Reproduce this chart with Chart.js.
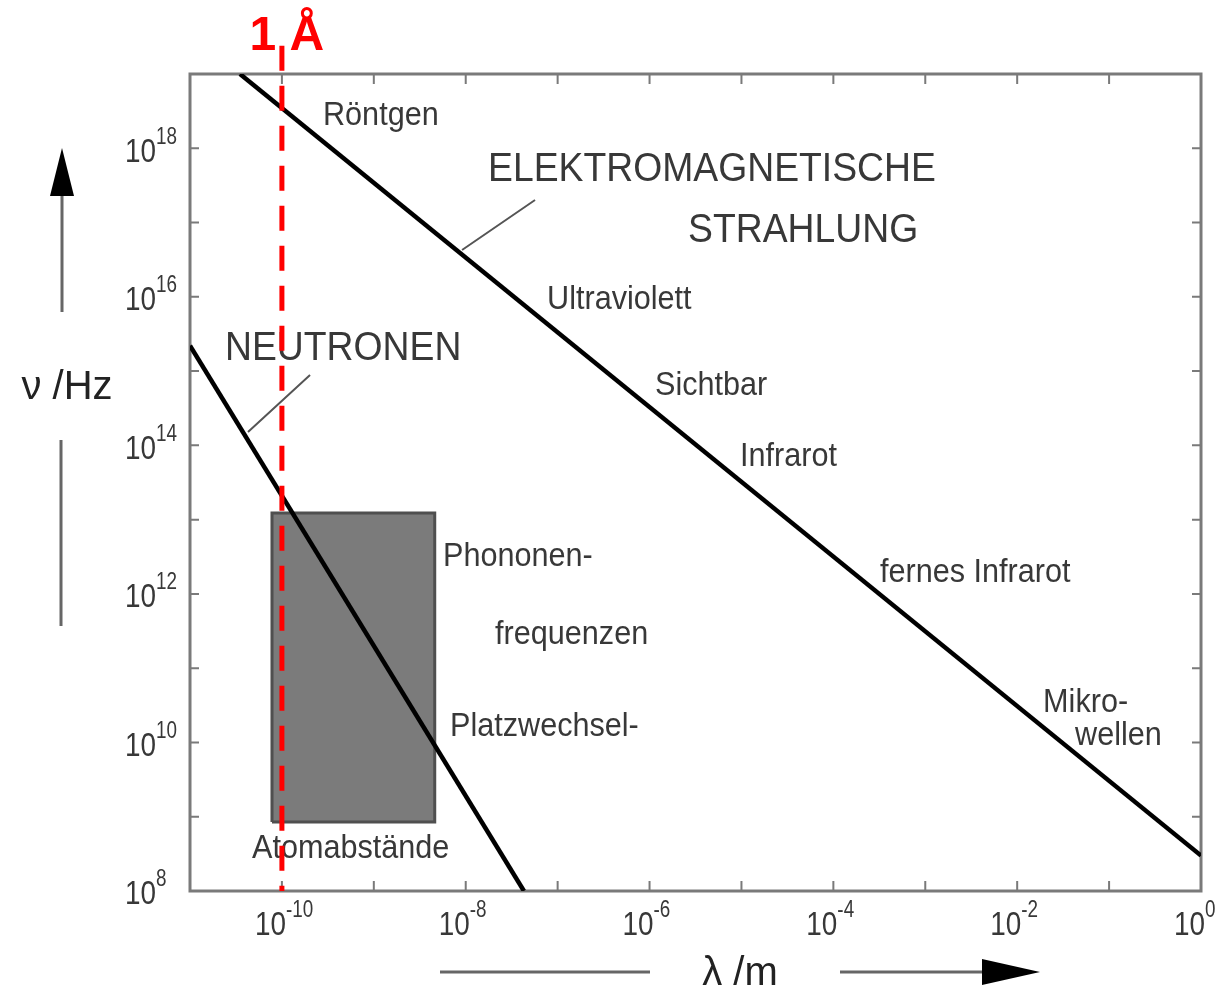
<!DOCTYPE html>
<html>
<head>
<meta charset="utf-8">
<script src="https://cdn.jsdelivr.net/npm/chart.js@4.4.1/dist/chart.umd.min.js"></script>
<style>
  body { margin: 0; background: #fff; }
</style>
</head>
<body>
<canvas id="spektrum" width="1221" height="995"></canvas>
<script>
// Wellenlänge lambda in m, Frequenz nu in Hz
const emLambda = [3.5e-11, 1];
const emNu = [1e19, 3e8];
const neutronLambda = [1e-11, 4.3e-8];
const neutronNu = [2.2e15, 1e8];

// grauer Bereich (Atomabstände / Phononen- und Platzwechselfrequenzen)
const boxLambda = [7.8e-11, 4.6e-9];
const boxNu = [8.5e8, 1.23e13];

// 1 Angström
const angstromLambda = 1e-10;
const angstromNu = [2.4e19, 1e8];

// Achsen (Exponenten)
const xRange = [1e-11, 1];
const yRange = [1e8, 1e19];
const xTickExp = [-10, -8, -6, -4, -2, 0];
const yTickExp = [8, 10, 12, 14, 16, 18];

// Beschriftungen im Diagramm: [Text, log10(lambda), log10(nu)]
const titleTexts = [
    ['ELEKTROMAGNETISCHE', -7.757, 17.708],
    ['STRAHLUNG', -5.581, 16.887],
    ['NEUTRONEN', -10.619, 15.298]
];
const bandTexts = [
    ['Röntgen', -9.553, 18.435],
    ['Ultraviolett', -7.115, 15.957],
    ['Sichtbar', -5.94, 14.8],
    ['Infrarot', -5.015, 13.843],
    ['fernes Infrarot', -3.492, 12.282],
    ['Mikro-', -1.718, 10.531],
    ['wellen', -1.37, 10.087],
    ['Phononen-', -8.247, 12.497],
    ['frequenzen', -7.681, 11.447],
    ['Platzwechsel-', -8.171, 10.208],
    ['Atomabstände', -10.325, 8.566]
];
// Hinweislinien: [log10(lambda1), log10(nu1), log10(lambda2), log10(nu2)]
const leaders = [
    [-7.246, 17.304, -8.04, 16.631],
    [-9.694, 14.948, -10.369, 14.18]
];

const FONT = '"Liberation Sans", Arial, sans-serif';
const TEXT = '#383838';
const FRAME = '#7a7a7a';

function pts(xs, ys) {
    return xs.map((x, i) => ({ x: x, y: ys[i] }));
}

// schmale Schrift wie im Original (horizontal gestaucht)
function narrowText(ctx, text, x, y, sx) {
    ctx.save();
    ctx.translate(x, y);
    ctx.scale(sx, 1);
    ctx.fillText(text, 0, 0);
    ctx.restore();
}

// Zehnerpotenz mit hochgestelltem Exponenten, rechter Rand von "10" bei x
function drawPow(ctx, exp, x, y) {
    ctx.textAlign = 'left';
    ctx.textBaseline = 'middle';
    ctx.fillStyle = TEXT;
    ctx.font = '34px ' + FONT;
    const wBase = ctx.measureText('10').width * 0.82;
    narrowText(ctx, '10', x - wBase, y, 0.82);
    ctx.font = '23px ' + FONT;
    narrowText(ctx, String(exp), x, y - 15, 0.82);
    return wBase;
}

const decorPlugin = {
    id: 'decor',
    beforeDatasetsDraw(chart) {
        const ctx = chart.ctx;
        const xs = chart.scales.x;
        const ys = chart.scales.y;
        const a = chart.chartArea;
        ctx.save();

        // Rahmen
        ctx.strokeStyle = FRAME;
        ctx.lineWidth = 3;
        ctx.strokeRect(a.left, a.top, a.right - a.left, a.bottom - a.top);

        // Striche nach innen, jede Dekade
        ctx.lineWidth = 2;
        ctx.beginPath();
        for (let e = -10; e <= -1; e++) {
            const px = xs.getPixelForValue(Math.pow(10, e));
            ctx.moveTo(px, a.bottom); ctx.lineTo(px, a.bottom - 10);
            ctx.moveTo(px, a.top); ctx.lineTo(px, a.top + 10);
        }
        for (let e = 9; e <= 18; e++) {
            const py = ys.getPixelForValue(Math.pow(10, e));
            ctx.moveTo(a.left, py); ctx.lineTo(a.left + 9, py);
            ctx.moveTo(a.right, py); ctx.lineTo(a.right - 9, py);
        }
        ctx.stroke();

        // Achsenbeschriftung
        xTickExp.forEach(e => drawPow(ctx, e, xs.getPixelForValue(Math.pow(10, e)) + 4, a.bottom + 35));
        yTickExp.forEach(e => drawPow(ctx, e, a.left - 34, ys.getPixelForValue(Math.pow(10, e)) + 4));

        // Achsentitel mit Pfeilen
        ctx.fillStyle = '#222';
        ctx.font = '40px ' + FONT;
        ctx.textAlign = 'center';
        ctx.textBaseline = 'middle';
        ctx.fillText('ν /Hz', 67, 388);
        ctx.fillText('λ /m', 740, 974);

        ctx.strokeStyle = '#666';
        ctx.lineWidth = 3;
        ctx.beginPath();
        ctx.moveTo(62, 192); ctx.lineTo(62, 312);
        ctx.moveTo(61, 440); ctx.lineTo(61, 626);
        ctx.moveTo(440, 972); ctx.lineTo(650, 972);
        ctx.moveTo(840, 972); ctx.lineTo(985, 972);
        ctx.stroke();
        ctx.fillStyle = '#000';
        ctx.beginPath();
        ctx.moveTo(62, 148); ctx.lineTo(74, 196); ctx.lineTo(50, 196); ctx.closePath();
        ctx.fill();
        ctx.beginPath();
        ctx.moveTo(1040, 972); ctx.lineTo(982, 959); ctx.lineTo(982, 985); ctx.closePath();
        ctx.fill();

        // Texte im Diagramm
        ctx.textAlign = 'left';
        ctx.textBaseline = 'middle';
        ctx.fillStyle = TEXT;
        ctx.font = '41px ' + FONT;
        titleTexts.forEach(t => narrowText(ctx, t[0], xs.getPixelForValue(Math.pow(10, t[1])), ys.getPixelForValue(Math.pow(10, t[2])), 0.91));
        ctx.font = '34px ' + FONT;
        bandTexts.forEach(t => narrowText(ctx, t[0], xs.getPixelForValue(Math.pow(10, t[1])), ys.getPixelForValue(Math.pow(10, t[2])), 0.9));

        // Hinweislinien
        ctx.strokeStyle = '#555';
        ctx.lineWidth = 2;
        ctx.beginPath();
        leaders.forEach(l => {
            ctx.moveTo(xs.getPixelForValue(Math.pow(10, l[0])), ys.getPixelForValue(Math.pow(10, l[1])));
            ctx.lineTo(xs.getPixelForValue(Math.pow(10, l[2])), ys.getPixelForValue(Math.pow(10, l[3])));
        });
        ctx.stroke();

        // 1 Å
        ctx.fillStyle = '#ff0000';
        ctx.font = 'bold 48px ' + FONT;
        ctx.textAlign = 'center';
        ctx.textBaseline = 'alphabetic';
        ctx.fillText('1 Å', xs.getPixelForValue(angstromLambda) + 5, 50);

        ctx.restore();
    }
};

const ctx = document.getElementById('spektrum').getContext('2d');
new Chart(ctx, {
    type: 'line',
    data: {
        datasets: [
            {
                label: '1 Å',
                data: pts([angstromLambda, angstromLambda], angstromNu),
                borderColor: '#ff0000',
                borderWidth: 5,
                borderDash: [25, 15],
                pointRadius: 0,
                clip: false,
                order: 0
            },
            {
                label: 'Elektromagnetische Strahlung',
                data: pts(emLambda, emNu),
                borderColor: '#000',
                borderWidth: 4.5,
                pointRadius: 0,
                order: 1
            },
            {
                label: 'Neutronen',
                data: pts(neutronLambda, neutronNu),
                borderColor: '#000',
                borderWidth: 4.5,
                pointRadius: 0,
                order: 1
            },
            {
                label: 'Atomabstände',
                data: pts(
                    [boxLambda[0], boxLambda[1], boxLambda[1], boxLambda[0], boxLambda[0]],
                    [boxNu[0], boxNu[0], boxNu[1], boxNu[1], boxNu[0]]
                ),
                borderColor: '#4f4f4f',
                borderWidth: 3,
                backgroundColor: '#7b7b7b',
                fill: 'shape',
                pointRadius: 0,
                order: 3
            }
        ]
    },
    options: {
        responsive: false,
        animation: false,
        layout: { padding: { left: 190, top: 74, right: 20, bottom: 104 } },
        scales: {
            x: { type: 'logarithmic', min: xRange[0], max: xRange[1], display: false },
            y: { type: 'logarithmic', min: yRange[0], max: yRange[1], display: false }
        },
        plugins: {
            legend: { display: false },
            tooltip: { enabled: false }
        }
    },
    plugins: [decorPlugin]
});
</script>
</body>
</html>
